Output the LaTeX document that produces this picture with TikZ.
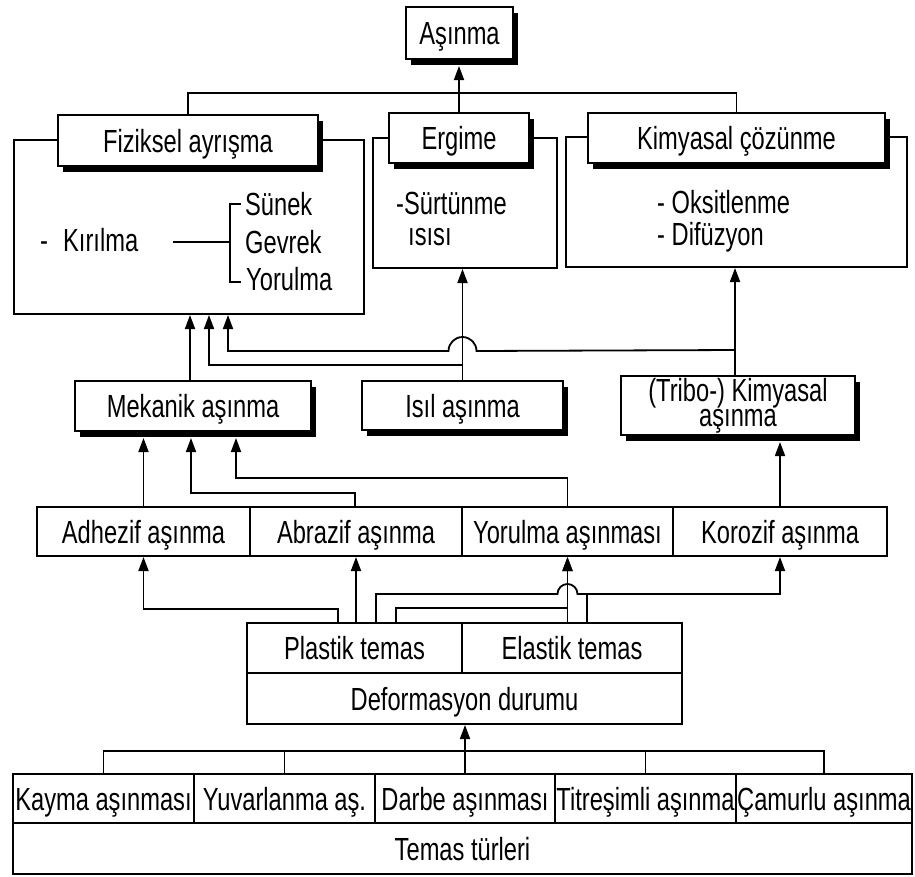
\documentclass[tikz,border=0pt]{standalone}
\usepackage{fontspec}
\setmainfont{Liberation Sans}[FakeStretch=0.74]
\usetikzlibrary{shadows,arrows.meta,calc}
\begin{document}
\begin{tikzpicture}[x=1pt,y=-1pt,
  every node/.style={font=\fontsize{32pt}{36pt}\selectfont, inner sep=0pt},
  box/.style={draw, line width=2pt, fill=white},
  cell/.style={box, text height=23pt, text depth=0pt},
  head/.style={cell, drop shadow={shadow xshift=5pt,shadow yshift=-6pt,opacity=1,fill=black}},
  shbox/.style={box, drop shadow={shadow xshift=5pt,shadow yshift=-6pt,opacity=1,fill=black}},
  lbl/.style={anchor=base west},
  wire/.style={line width=1.8pt},
  arr/.style={wire, -{Triangle[length=14pt,width=10pt]}},
]
\useasboundingbox (0,0) rectangle (915,876);

% ---------- upper groups: containers ----------
\node[box, minimum width=350pt, minimum height=174pt] (fizC) at (189,227) {};
\node[box, minimum width=184pt, minimum height=130pt] (ergC) at (465,203) {};
\node[box, minimum width=341pt, minimum height=130pt] (kimC) at (736.5,202) {};

% ---------- headers and root ----------
\node[head, minimum width=260pt, minimum height=51pt] (fizH) at (188,140.5) {Fiziksel ayrışma};
\node[head, minimum width=140pt, minimum height=50pt] (ergH) at (459,138) {Ergime};
\node[head, minimum width=297pt, minimum height=50pt] (kimH) at (736.5,138) {Kimyasal çözünme};
\node[head, minimum width=107pt, minimum height=52pt] (root) at (459.5,33) {Aşınma};

\draw[wire] (fizH.north) -- ++(0,-21) -| (kimH.north);
\draw[arr] (ergH.north) -- ($(ergH.north |- root.south)+(0,6)$);

% ---------- contents of the containers ----------
\node[lbl] (dash1) at (40,251) {-};
\node[lbl] (kir) at (63,251) {Kırılma};
\node[lbl] (sun) at (245,215) {Sünek};
\node[lbl] (gev) at (245,253) {Gevrek};
\node[lbl] (yorl) at (246,290) {Yorulma};
\draw[wire] (173,242) -- (230,242);
\draw[wire] (241,204) -- (230,204) -- (230,282) -- (241,282);

\node[lbl] (sur) at (396,214) {-Sürtünme};
\node[lbl] (isi) at (408,245) {ısısı};

\node[lbl] (oks) at (657,213) {- Oksitlenme};
\node[lbl] (dif) at (657,245) {- Difüzyon};

% ---------- wear mechanisms ----------
\node[head, minimum width=236pt, minimum height=50pt] (mek) at (193,406) {Mekanik aşınma};
\node[head, minimum width=201pt, minimum height=49pt] (isil) at (462.5,405.5) {Isıl aşınma};
\node[shbox, minimum width=234pt, minimum height=59pt, align=center,
      font=\fontsize{32pt}{23pt}\selectfont] (tribo) at (738,405.5) {(Tribo-) Kimyasal\\aşınma};

\draw[arr] ([xshift=-3pt]mek.north) -- ([xshift=1pt]fizC.south);
\draw[arr] (isil.north) -- (isil.north |- ergC.south);
\draw[arr] (isil.north) |- ++(-253.5,-15) -- ([xshift=20pt]fizC.south);
\draw[arr] ([xshift=-3pt]tribo.north) -- ([xshift=-1.5pt]kimC.south);
\draw[arr] ([xshift=-3pt]tribo.north) -- ++(0,-25) -- (476.5,351)
  arc[start angle=0,end angle=180,radius=14pt] -- (228,351) -- ([xshift=39pt]fizC.south);

% ---------- wear types ----------
\node[cell, minimum width=213pt, minimum height=49pt] (adh) at (143.5,531.5) {Adhezif aşınma};
\node[cell, minimum width=212pt, minimum height=49pt] (abr) at (356,531.5) {Abrazif aşınma};
\node[cell, minimum width=211pt, minimum height=49pt] (yor) at (567.5,531.5) {Yorulma aşınması};
\node[cell, minimum width=214pt, minimum height=49pt] (kor) at (780,531.5) {Korozif aşınma};

\draw[arr] (adh.north) -- ($(adh.north |- mek.south)+(0,6)$);
\draw[arr] ([xshift=-1pt]abr.north) |- (191,493) -- ($([xshift=-2pt]mek.south)+(0,6)$);
\draw[arr] (yor.north) |- (236,478) -- ($([xshift=43pt]mek.south)+(0,6)$);
\draw[arr] (kor.north) -- ($(kor.north |- tribo.south)+(0,6)$);

% ---------- deformation state ----------
\node[cell, minimum width=215pt, minimum height=50pt] (pla) at (354.5,648) {Plastik temas};
\node[cell, minimum width=220pt, minimum height=50pt] (ela) at (572,648) {Elastik temas};
\node[cell, minimum width=435pt, minimum height=51pt] (def) at (464.5,698.5) {Deformasyon durumu};

\draw[arr] ([xshift=-16.5pt]pla.north) |- (143.5,609) -- (adh.south);
\draw[arr] ([xshift=1.5pt]pla.north) -- (abr.south);
\draw[arr] ([xshift=21.5pt]pla.north) |- (557.5,594)
  arc[start angle=180,end angle=0,radius=10pt] -- (780,594) -- (kor.south);
\draw[arr] ([xshift=41.5pt]pla.north) |- ++(171.5,-14) -- (yor.south);
\draw[arr] ([xshift=-4.5pt]ela.north) -- (yor.south);
\draw[wire] ([xshift=15pt]ela.north) -- ++(0,-29);

% ---------- contact types ----------
\node[cell, minimum width=181pt, minimum height=49pt] (kay) at (103.5,798.5) {Kayma aşınması};
\node[cell, minimum width=181pt, minimum height=49pt] (yuv) at (284.5,798.5) {Yuvarlanma aş.};
\node[cell, minimum width=180pt, minimum height=49pt] (dar) at (465,798.5) {Darbe aşınması};
\node[cell, minimum width=181pt, minimum height=49pt] (tit) at (645.5,798.5) {Titreşimli aşınma};
\node[cell, minimum width=176pt, minimum height=49pt] (cam) at (824,798.5) {Çamurlu aşınma};
\node[cell, minimum width=899pt, minimum height=51pt] (tem) at (462.5,848.5) {Temas türleri};

\draw[wire] (kay.north) -- ++(0,-22) -| (cam.north);
\draw[wire] (yuv.north) -- ++(0,-22);
\draw[wire] (tit.north) -- ++(0,-22);
\draw[arr] (dar.north) -- (dar.north |- def.south);

\end{tikzpicture}
\end{document}
